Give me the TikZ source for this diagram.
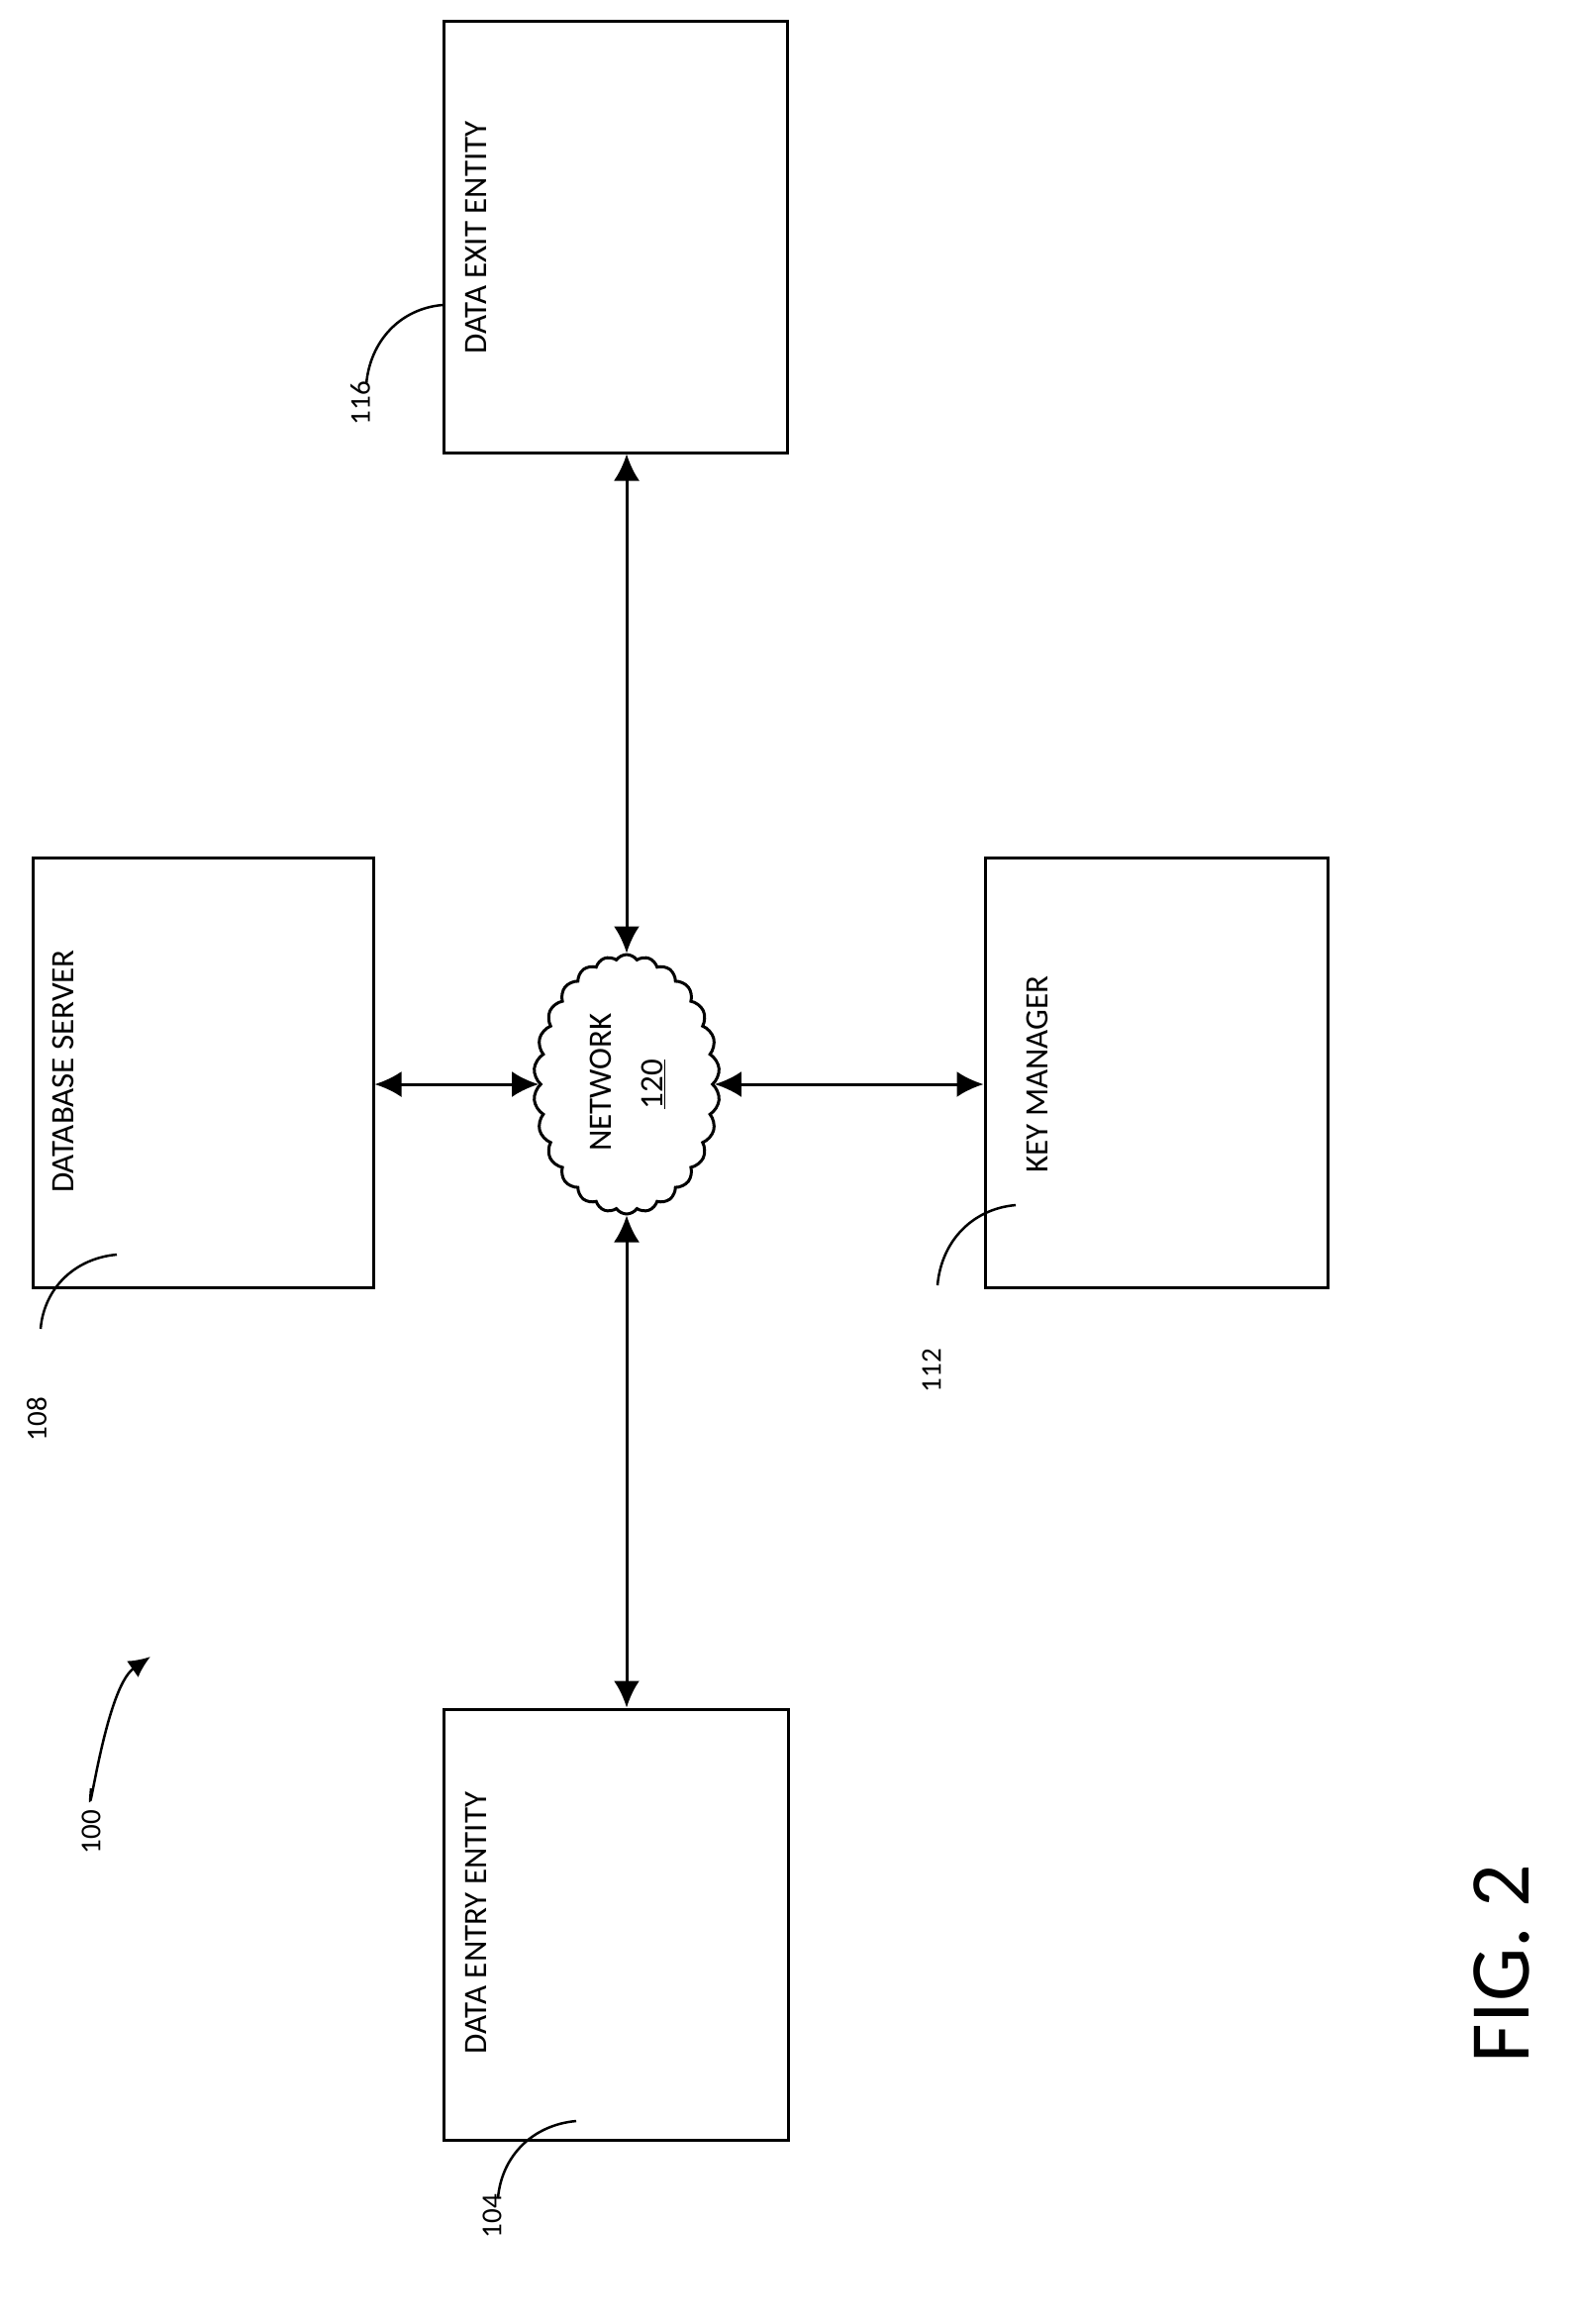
\documentclass[tikz,border=0pt]{standalone}
\usepackage{fontspec}
\setmainfont{Carlito}
\usetikzlibrary{shapes.symbols,arrows.meta}
\begin{document}
\begin{tikzpicture}[x=1pt,y=-1pt,line width=3pt,
  box/.style={draw,rectangle,inner sep=0pt},
  lbl/.style={rotate=90,font=\fontsize{33}{36}\selectfont},
  num/.style={rotate=90,font=\fontsize{29}{32}\selectfont},
  arr/.style={{Latex[length=27pt,width=26pt]}-{Latex[length=27pt,width=26pt]}},
  lead/.style={line width=2.5pt}]
\useasboundingbox (0,0) rectangle (1594,2347);
\node[box,minimum width=347pt,minimum height=435pt] (exit) at (621.5,239.5) {};
\node[box,minimum width=344pt,minimum height=434pt] (db) at (205,1083) {};
\node[box,minimum width=346pt,minimum height=434pt] (key) at (1168,1083) {};
\node[box,minimum width=348pt,minimum height=435pt] (entry) at (622,1943.5) {};
\node[cloud,draw,cloud puffs=26,cloud puff arc=110,cloud ignores aspect,minimum width=188pt,minimum height=262pt,inner sep=0pt] (net) at (633,1095) {};
\node[lbl] (texit) at (481,240) {DATA EXIT ENTITY};
\node[lbl] (tdb) at (64,1082) {DATABASE SERVER};
\node[lbl] (tkey) at (1048,1085) {KEY MANAGER};
\node[lbl] (tentry) at (481,1942) {DATA ENTRY ENTITY};
\node[lbl] (tnet) at (607,1093) {NETWORK};
\node[lbl] (tnum) at (660,1095) {\underline{120}};
\node[num] (n116) at (364,407) {116};
\node[num] (n108) at (37,1433) {108};
\node[num] (n112) at (941,1384) {112};
\node[num] (n104) at (497,2238) {104};
\node[num] (n100) at (92,1850) {100};
\node[rotate=90,font=\fontsize{86}{90}\selectfont] (fig) at (1517,1983) {FIG. 2};
\draw[arr] (exit.south -| net.north) -- (net.north);
\draw[arr] (net.south) -- (entry.north -| net.south);
\draw[arr] (db.east |- net.west) -- (net.west);
\draw[arr] (net.east) -- (key.west |- net.east);
\coordinate (a1) at (447,308); \coordinate (a2) at (370,388);
\coordinate (b1) at (118,1267); \coordinate (b2) at (41,1342);
\coordinate (c1) at (1026,1217); \coordinate (c2) at (947,1298);
\coordinate (d1) at (582,2142); \coordinate (d2) at (503,2220);
\coordinate (e1) at (92,1806); \coordinate (e2) at (152,1673);
\foreach \s/\e in {a1/a2,b1/b2,c1/c2,d1/d2}
  \draw[lead] (\s) to[out=185,in=85] (\e);
\draw[lead,-{Latex[length=22pt,width=20pt]}] (e1) to[out=-95,in=215] (e2);
\end{tikzpicture}
\end{document}
